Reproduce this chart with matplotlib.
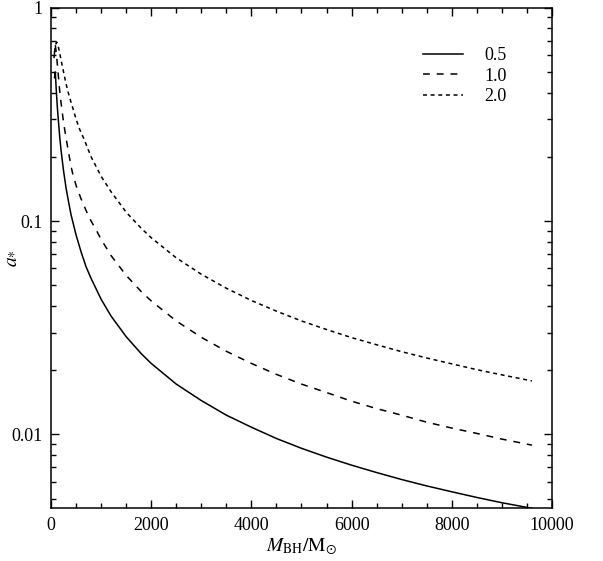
import numpy as np
import matplotlib
matplotlib.use("Agg")
import matplotlib.pyplot as plt
from matplotlib import ticker

plt.rcParams['font.family'] = ['Liberation Serif', 'DejaVu Serif']
plt.rcParams['mathtext.fontset'] = 'stix'

# values (M_BH in solar masses, a_*)
m_05 = [70, 85, 100, 125, 150, 175, 200, 250, 300, 350, 400, 500, 600, 700,
        800, 1000, 1200, 1500, 1800, 2000, 2500, 3000, 3500, 4000, 4500,
        5000, 5500, 6000, 6500, 7000, 7500, 8000, 8500, 9000, 9600]
a_05 = [0.47, 0.50, 0.43, 0.345, 0.29, 0.246, 0.215, 0.172, 0.143, 0.123,
        0.107, 0.086, 0.0717, 0.061, 0.0538, 0.043, 0.0358, 0.0287, 0.0239,
        0.0215, 0.0172, 0.0144, 0.0123, 0.0108, 0.00956, 0.0086, 0.00782,
        0.00717, 0.00662, 0.00614, 0.00573, 0.00538, 0.00506, 0.00478, 0.0045]

m_10 = [60, 85, 110, 130, 150, 170, 190, 220, 250, 300, 350, 400, 440, 500,
        600, 700, 800, 900, 1000, 1200, 1500, 1800, 2000, 2500, 3000, 3500,
        4000, 4500, 5000, 5500, 6000, 6500, 7000, 7500, 8000, 8500, 9000, 9600]
a_10 = [0.58, 0.67, 0.60, 0.53, 0.47, 0.415, 0.375, 0.33, 0.29, 0.245, 0.21,
        0.18, 0.164, 0.147, 0.127, 0.112, 0.100, 0.091, 0.082, 0.0688, 0.0556,
        0.0467, 0.0422, 0.0340, 0.0285, 0.0245, 0.0215, 0.0191, 0.0172,
        0.0157, 0.0143, 0.0132, 0.0123, 0.0114, 0.0107, 0.0101, 0.0095, 0.0089]

m_20 = [70, 90, 110, 130, 150, 175, 200, 250, 300, 350, 400, 450, 500, 575,
        650, 800, 900, 1000, 1200, 1500, 1800, 2000, 2500, 3000, 3500, 4000,
        4500, 5000, 5500, 6000, 6500, 7000, 7500, 8000, 8500, 9000, 9600]
a_20 = [0.62, 0.67, 0.69, 0.68, 0.65, 0.61, 0.57, 0.50, 0.44, 0.395, 0.36,
        0.33, 0.30, 0.268, 0.245, 0.20, 0.18, 0.162, 0.137, 0.110, 0.0925,
        0.0835, 0.0672, 0.0563, 0.0484, 0.0424, 0.0378, 0.0340, 0.0310,
        0.0284, 0.0263, 0.0244, 0.0228, 0.0214, 0.0201, 0.0190, 0.0178]

labels = ['0.5', '1.0', '2.0']

fig = plt.figure(figsize=(6.03, 5.61), dpi=100)
ax = fig.add_axes([0.0846, 0.0939, 0.8308, 0.8924])

ax.plot(m_05, a_05, color='black', lw=1.1, label=labels[0])
ax.plot(m_10, a_10, color='black', lw=1.1, dashes=(4.5, 4.5), label=labels[1])
ax.plot(m_20, a_20, color='black', lw=1.1, dashes=(2.6, 2.4), label=labels[2])

ax.set_yscale('log')
ax.set_xlim(0, 10000)
ax.set_ylim(0.0045, 1)

ax.xaxis.set_major_locator(ticker.MultipleLocator(2000))
ax.xaxis.set_minor_locator(ticker.MultipleLocator(500))
ax.yaxis.set_major_locator(ticker.FixedLocator([0.01, 0.1, 1]))
ax.yaxis.set_major_formatter(ticker.FixedFormatter(['0.01', '0.1', '1']))
ax.yaxis.set_minor_locator(ticker.LogLocator(base=10, subs=np.arange(2, 10)))
ax.yaxis.set_minor_formatter(ticker.NullFormatter())

ax.tick_params(which='both', direction='in', top=True, right=True,
               labelsize=13, width=1.0, pad=6)
ax.tick_params(which='major', length=6)
ax.tick_params(which='minor', length=3.5)
for s in ax.spines.values():
    s.set_linewidth(1.1)

ax.set_xlabel(r'$M_{\rm BH}/{\rm M}_{\odot}$', fontsize=14, labelpad=2)
ax.set_ylabel(r'$a_{*}$', fontsize=14)
ax.yaxis.set_label_coords(-0.064, 0.5)

ax.legend(loc='upper right', bbox_to_anchor=(0.924, 0.936), borderaxespad=0,
          frameon=False, fontsize=13, handlelength=2.2, handletextpad=1.2,
          labelspacing=0.2)

fig.savefig('out.png', dpi=100)
